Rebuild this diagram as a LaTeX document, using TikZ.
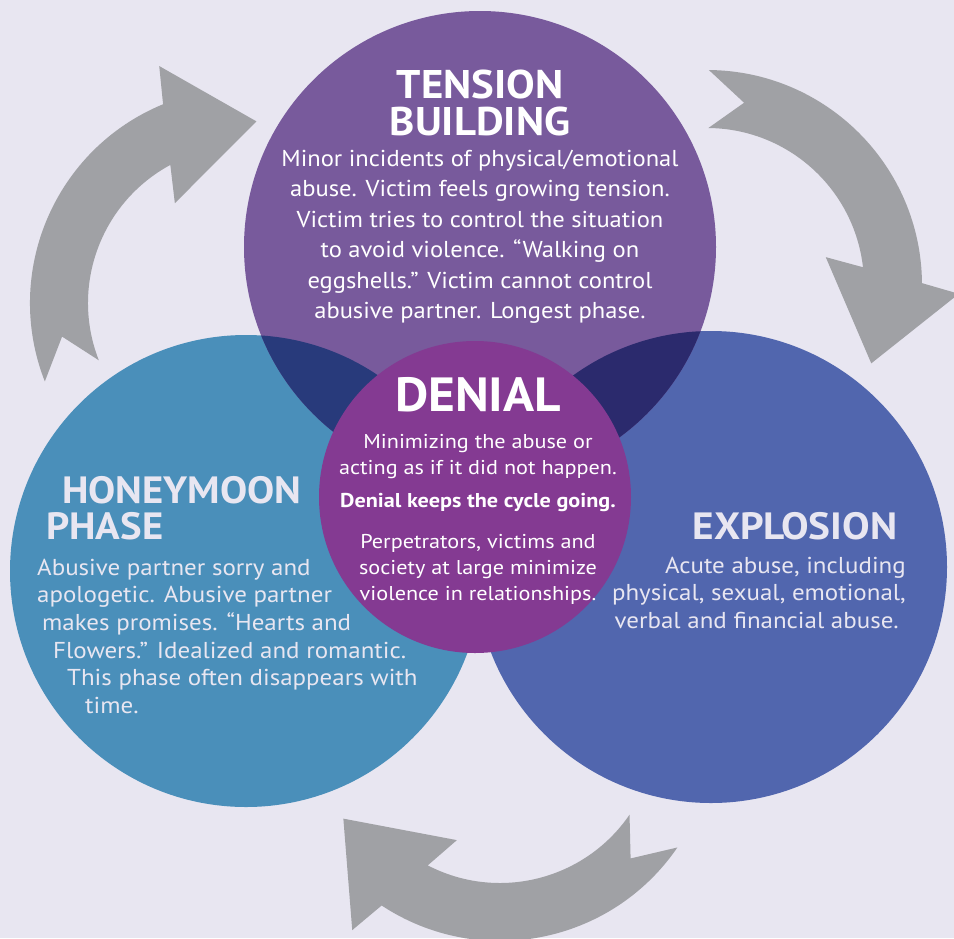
\documentclass[tikz,border=0pt]{standalone}
\usepackage{fontspec}
\setmainfont{PT Sans}
\newfontfamily\fTitle[FakeStretch=1.07]{PT Sans}
\newfontfamily\fTension[FakeStretch=1.067]{PT Sans}
\newfontfamily\fDenial[FakeStretch=1.11]{PT Sans}
\newfontfamily\fPhase[FakeStretch=1.085]{PT Sans}
\definecolor{bg}{HTML}{E8E6F1}
\definecolor{toppurple}{HTML}{785A9C}
\definecolor{leftblue}{HTML}{4A8FBA}
\definecolor{rightblue}{HTML}{5166AE}
\definecolor{navyA}{HTML}{283A7B}
\definecolor{navyB}{HTML}{2B2A6D}
\definecolor{denialc}{HTML}{843A92}
\definecolor{arrowgray}{HTML}{A0A1A5}
\definecolor{softwhite}{HTML}{E8E6F1}
\newcommand\cyclearrow[3]{%
  \fill[arrowgray] ([shift={#1}]#2:215) arc[start angle=#2, end angle=#2+89, radius=215]
    -- ([shift={#1}]#2+91.5:252) -- ([shift={#1}]#2+115:182) -- ([shift={#1}]#2+76.3:122)
    -- ([shift={#1}]#2+83:157) arc[start angle=#2+83, end angle=#2, radius=157]
    -- ([shift={#1}]#2+11:186) -- cycle;
  \coordinate (#3) at #1;}
\tikzset{
  phase/.style={circle, inner sep=0pt, minimum size=472pt},
  txt/.style={inner sep=0pt, text=white},
  soft/.style={inner sep=0pt, text=softwhite},
}
\begin{document}
\begin{tikzpicture}[x=1pt,y=-1pt]
\fill[bg] (0,0) rectangle (954,938);
\useasboundingbox (0,0) rectangle (954,938);
\clip (0,0) rectangle (954,938);
% arrows
\cyclearrow{(245,303)}{158.6}{arrowL}
\cyclearrow{(707,285)}{-89.5}{arrowR}
\cyclearrow{(500,726)}{34.4}{arrowB}
% phase circles
\node[phase, fill=leftblue] (honeymoon) at (246,571) {};
\node[phase, fill=rightblue] (explosion) at (711,567) {};
\node[phase, fill=toppurple] (tension) at (480,247) {};
\begin{scope}
  \clip (480,247) circle[radius=236];
  \fill[navyA] (246,571) circle[radius=236];
  \fill[navyB] (711,567) circle[radius=236];
\end{scope}
\node[circle, inner sep=0pt, minimum size=312pt, fill=denialc] (denial) at (475,497) {};
% texts
\node[txt, anchor=north, align=center, font=\fTitle\bfseries\fontsize{40}{37}\selectfont] (tbtitle) at (480,58)
  {\rule{0pt}{40pt}TENSION\\BUILDING};
\node[txt, anchor=north, align=center, font=\fTension\fontsize{23}{30.5}\selectfont] (tbbody) at (480,141)
  {\rule{0pt}{25pt}Minor incidents of physical/emotional\\abuse. Victim feels growing tension.\\Victim tries to control the situation\\to avoid violence. “Walking on\\eggshells.” Victim cannot control\\abusive partner. Longest phase.};
\node[txt, anchor=north, align=center, font=\fTitle\bfseries\fontsize{48}{50}\selectfont] (dntitle) at (478,361)
  {\rule{0pt}{50pt}DENIAL};
\node[txt, anchor=north, align=center, font=\fDenial\fontsize{20}{26}\selectfont] (dnbody) at (478,426)
  {\rule{0pt}{22pt}Minimizing the abuse or\\acting as if it did not happen.\\[7pt]\textbf{Denial keeps the cycle going.}\\[15pt]Perpetrators, victims and\\society at large minimize\\violence in relationships.};
\node[soft, anchor=north west, align=left, font=\fTitle\bfseries\fontsize{38}{36}\selectfont] (hmtitle) at (46,463)
  {\rule{0pt}{40pt}\hspace*{16pt}HONEYMOON\\PHASE};
\node[soft, anchor=north west, align=left, font=\fPhase\fontsize{23}{27.6}\selectfont] (hmbody) at (37,550)
  {\rule{0pt}{25pt}Abusive partner sorry and\\apologetic. Abusive partner\\\hspace*{5pt}makes promises. “Hearts and\\\hspace*{16pt}Flowers.” Idealized and romantic.\\\hspace*{30pt}This phase often disappears with\\\hspace*{48pt}time.};
\node[soft, anchor=north, align=center, font=\fPhase\bfseries\fontsize{38}{36}\selectfont] (extitle) at (795,499)
  {\rule{0pt}{40pt}EXPLOSION};
\node[soft, anchor=north east, align=right, font=\fPhase\fontsize{23}{27.5}\selectfont] (exbody) at (906,548)
  {\rule{0pt}{25pt}Acute abuse, including\\physical, sexual, emotional,\\verbal and financial abuse.\rule{7pt}{0pt}};
\end{tikzpicture}
\end{document}
